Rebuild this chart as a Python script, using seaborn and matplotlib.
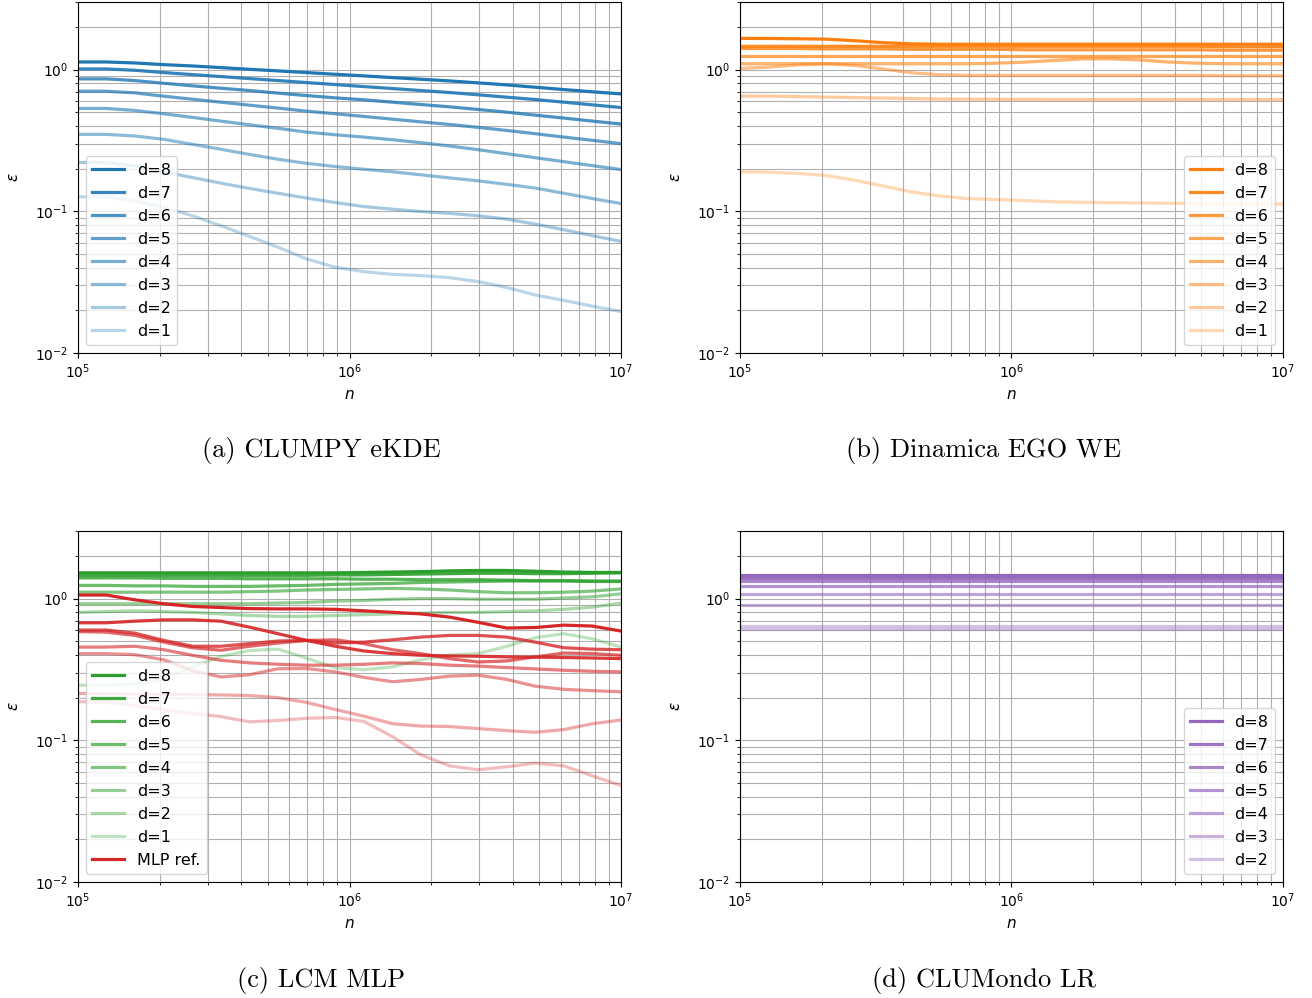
import numpy as np
import pandas as pd
import matplotlib
matplotlib.use("Agg")
import matplotlib.pyplot as plt
import seaborn as sns

# ---------------- data ----------------
n_values = [1.00e5, 1.27e5, 1.62e5, 2.07e5, 2.64e5, 3.36e5, 4.28e5, 5.46e5, 6.95e5, 8.86e5,
            1.13e6, 1.44e6, 1.83e6, 2.34e6, 2.98e6, 3.79e6, 4.83e6, 6.16e6, 7.85e6, 1.00e7]
n_flat = [1.0e5, 1.0e7]
dims = [8, 7, 6, 5, 4, 3, 2, 1]

# (a) CLUMPY eKDE
clumpy = {
    8: [1.132, 1.132, 1.114, 1.084, 1.061, 1.033, 1.005, 0.979, 0.953, 0.927, 0.903, 0.878, 0.855, 0.832, 0.806, 0.780, 0.751, 0.723, 0.697, 0.674],
    7: [1.011, 1.011, 0.989, 0.953, 0.922, 0.893, 0.864, 0.837, 0.810, 0.784, 0.759, 0.735, 0.712, 0.689, 0.664, 0.639, 0.615, 0.589, 0.564, 0.540],
    6: [0.860, 0.860, 0.837, 0.801, 0.768, 0.739, 0.712, 0.682, 0.656, 0.632, 0.612, 0.589, 0.567, 0.546, 0.523, 0.501, 0.477, 0.455, 0.433, 0.413],
    5: [0.704, 0.704, 0.685, 0.649, 0.618, 0.589, 0.561, 0.535, 0.509, 0.488, 0.467, 0.447, 0.428, 0.410, 0.391, 0.372, 0.353, 0.334, 0.317, 0.300],
    4: [0.532, 0.532, 0.515, 0.488, 0.460, 0.433, 0.408, 0.385, 0.362, 0.347, 0.334, 0.320, 0.305, 0.289, 0.272, 0.255, 0.239, 0.224, 0.210, 0.197],
    3: [0.349, 0.349, 0.340, 0.322, 0.297, 0.274, 0.252, 0.233, 0.218, 0.207, 0.198, 0.190, 0.181, 0.172, 0.164, 0.155, 0.146, 0.134, 0.123, 0.1135],
    2: [0.221, 0.221, 0.209, 0.190, 0.173, 0.158, 0.145, 0.134, 0.124, 0.1153, 0.108, 0.1035, 0.0997, 0.0966, 0.0930, 0.0881, 0.0812, 0.0741, 0.0673, 0.0613],
    1: [0.1265, 0.1265, 0.1186, 0.1064, 0.0930, 0.0791, 0.0665, 0.0557, 0.0461, 0.0403, 0.0375, 0.0359, 0.0352, 0.0340, 0.0319, 0.0290, 0.0257, 0.0235, 0.0214, 0.0196],
}

# (b) Dinamica EGO WE
dinamica = {
    8: [1.66, 1.66, 1.65, 1.64, 1.60, 1.55, 1.52, 1.51, 1.51, 1.51, 1.51, 1.51, 1.51, 1.51, 1.51, 1.51, 1.51, 1.51, 1.51, 1.51],
    7: [1.46, 1.46, 1.46, 1.46, 1.46, 1.46, 1.46, 1.46, 1.46, 1.46, 1.46, 1.46, 1.46, 1.46, 1.46, 1.46, 1.46, 1.45, 1.45, 1.45],
    6: [1.41, 1.41, 1.41, 1.40, 1.40, 1.40, 1.39, 1.39, 1.39, 1.39, 1.38, 1.38, 1.38, 1.38, 1.38, 1.38, 1.38, 1.37, 1.37, 1.37],
    5: [1.24, 1.24, 1.24, 1.24, 1.24, 1.24, 1.24, 1.24, 1.24, 1.24, 1.24, 1.24, 1.24, 1.24, 1.24, 1.24, 1.24, 1.24, 1.24, 1.24],
    4: [1.10, 1.10, 1.10, 1.10, 1.10, 1.10, 1.10, 1.10, 1.10, 1.11, 1.13, 1.16, 1.19, 1.19, 1.17, 1.13, 1.11, 1.10, 1.10, 1.10],
    3: [1.02, 1.04, 1.08, 1.10, 1.07, 1.01, 0.95, 0.92, 0.91, 0.91, 0.91, 0.91, 0.91, 0.91, 0.91, 0.91, 0.91, 0.905, 0.905, 0.905],
    2: [0.650, 0.650, 0.645, 0.640, 0.635, 0.630, 0.625, 0.620, 0.618, 0.617, 0.616, 0.615, 0.615, 0.615, 0.615, 0.615, 0.615, 0.615, 0.615, 0.615],
    1: [0.190, 0.189, 0.185, 0.179, 0.166, 0.151, 0.137, 0.128, 0.123, 0.121, 0.119, 0.1166, 0.1158, 0.115, 0.1145, 0.114, 0.1135, 0.1132, 0.1128, 0.1123],
}

# (c) LCM MLP
lcm = {
    8: [1.52, 1.52, 1.52, 1.52, 1.52, 1.52, 1.52, 1.52, 1.52, 1.52, 1.53, 1.54, 1.55, 1.57, 1.58, 1.58, 1.56, 1.54, 1.53, 1.53],
    7: [1.46, 1.46, 1.46, 1.46, 1.46, 1.46, 1.46, 1.46, 1.46, 1.47, 1.47, 1.48, 1.49, 1.50, 1.51, 1.51, 1.50, 1.50, 1.51, 1.52],
    6: [1.40, 1.40, 1.40, 1.39, 1.39, 1.39, 1.38, 1.38, 1.38, 1.38, 1.37, 1.37, 1.36, 1.36, 1.36, 1.35, 1.34, 1.34, 1.33, 1.33],
    5: [1.24, 1.24, 1.23, 1.23, 1.22, 1.22, 1.22, 1.23, 1.24, 1.26, 1.27, 1.28, 1.30, 1.31, 1.32, 1.33, 1.33, 1.33, 1.32, 1.32],
    4: [1.11, 1.11, 1.11, 1.11, 1.11, 1.11, 1.12, 1.13, 1.15, 1.16, 1.17, 1.18, 1.17, 1.15, 1.12, 1.10, 1.10, 1.11, 1.13, 1.17],
    3: [0.92, 0.92, 0.92, 0.92, 0.92, 0.92, 0.92, 0.93, 0.94, 0.96, 0.97, 0.99, 1.00, 1.00, 0.99, 0.99, 0.99, 1.01, 1.03, 1.08],
    2: [0.80, 0.81, 0.82, 0.81, 0.80, 0.78, 0.76, 0.75, 0.75, 0.76, 0.77, 0.78, 0.79, 0.80, 0.80, 0.81, 0.82, 0.84, 0.87, 0.93],
    1: [0.245, 0.245, 0.25, 0.27, 0.33, 0.39, 0.43, 0.44, 0.38, 0.325, 0.315, 0.33, 0.37, 0.40, 0.41, 0.46, 0.53, 0.565, 0.52, 0.455],
}
mlp_ref = {
    8: [1.06, 1.06, 0.98, 0.92, 0.88, 0.865, 0.85, 0.846, 0.846, 0.84, 0.82, 0.80, 0.78, 0.74, 0.68, 0.62, 0.625, 0.65, 0.64, 0.59],
    7: [0.675, 0.675, 0.693, 0.708, 0.708, 0.693, 0.629, 0.565, 0.507, 0.461, 0.427, 0.409, 0.398, 0.394, 0.392, 0.388, 0.386, 0.384, 0.381, 0.377],
    6: [0.600, 0.600, 0.570, 0.507, 0.461, 0.461, 0.481, 0.502, 0.507, 0.486, 0.493, 0.512, 0.535, 0.550, 0.550, 0.535, 0.493, 0.450, 0.440, 0.436],
    5: [0.585, 0.580, 0.550, 0.493, 0.450, 0.432, 0.461, 0.486, 0.507, 0.512, 0.481, 0.436, 0.409, 0.377, 0.357, 0.363, 0.388, 0.413, 0.409, 0.398],
    4: [0.455, 0.455, 0.461, 0.436, 0.398, 0.367, 0.352, 0.344, 0.339, 0.339, 0.344, 0.352, 0.348, 0.339, 0.334, 0.326, 0.319, 0.312, 0.307, 0.304],
    3: [0.409, 0.409, 0.402, 0.370, 0.310, 0.280, 0.290, 0.320, 0.321, 0.304, 0.278, 0.259, 0.269, 0.284, 0.288, 0.269, 0.241, 0.229, 0.224, 0.220],
    2: [0.214, 0.214, 0.212, 0.211, 0.210, 0.209, 0.207, 0.200, 0.185, 0.165, 0.148, 0.131, 0.126, 0.125, 0.121, 0.117, 0.114, 0.119, 0.131, 0.139],
    1: [0.187, 0.187, 0.176, 0.164, 0.155, 0.147, 0.135, 0.138, 0.143, 0.145, 0.136, 0.106, 0.079, 0.066, 0.062, 0.065, 0.069, 0.066, 0.056, 0.048],
}

# (d) CLUMondo LR  (flat lines)
clumondo = {
    8: [[1.47, 1.47]],
    7: [[1.44, 1.44], [1.40, 1.40]],
    6: [[1.33, 1.33]],
    5: [[1.22, 1.22]],
    4: [[1.08, 1.08]],
    3: [[0.90, 0.90]],
    2: [[0.64, 0.64], [0.615, 0.615]],
}

captions = ["(a) CLUMPY eKDE", "(b) Dinamica EGO WE", "(c) LCM MLP", "(d) CLUMondo LR"]

# ---------------- style ----------------
LW = 2.3
LEG_FS = 11.5


def alpha_of(d):
    return 0.3 + 0.1 * (d - 1)


def style_axes(ax):
    ax.set_xscale("log")
    ax.set_yscale("log")
    ax.set_xlim(1e5, 1e7)
    ax.set_ylim(1e-2, 3)
    ax.grid(True, which="both", color="#b0b0b0", linewidth=0.8)
    ax.set_axisbelow(True)
    ax.set_xlabel("$n$", fontsize=11)
    ax.set_ylabel(r"$\varepsilon$", fontsize=11, labelpad=10)


fig = plt.figure(figsize=(13.12, 9.98), dpi=100)
W, H = 1312.0, 998.0
boxes = [(78, 2), (740, 2), (78, 531), (740, 531)]
axes = []
for (lx, ty) in boxes:
    ax = fig.add_axes([lx / W, 1 - (ty + 351) / H, 543 / W, 351 / H])
    axes.append(ax)

# (a)
ax = axes[0]
style_axes(ax)
for d in dims:
    sns.lineplot(x=n_values, y=clumpy[d], ax=ax, color="tab:blue", alpha=alpha_of(d),
                 lw=LW, label=f"d={d}", estimator=None, sort=False)
ax.legend(loc="lower left", fontsize=LEG_FS)

# (b)
ax = axes[1]
style_axes(ax)
for d in dims:
    sns.lineplot(x=n_values, y=dinamica[d], ax=ax, color="tab:orange", alpha=alpha_of(d),
                 lw=LW, label=f"d={d}", estimator=None, sort=False)
ax.legend(loc="lower right", fontsize=LEG_FS)

# (c)
ax = axes[2]
style_axes(ax)
for d in dims:
    sns.lineplot(x=n_values, y=lcm[d], ax=ax, color="tab:green", alpha=alpha_of(d),
                 lw=LW, label=f"d={d}", estimator=None, sort=False)
for d in dims:
    kw = {"label": "MLP ref."} if d == 8 else {}
    sns.lineplot(x=n_values, y=mlp_ref[d], ax=ax, color="tab:red", alpha=alpha_of(d),
                 lw=LW, estimator=None, sort=False, **kw)
ax.legend(loc="lower left", fontsize=LEG_FS)

# (d)
ax = axes[3]
style_axes(ax)
for d in [8, 7, 6, 5, 4, 3, 2]:
    for i, vals in enumerate(clumondo[d]):
        kw = {"label": f"d={d}"} if i == 0 else {}
        sns.lineplot(x=n_flat, y=vals, ax=ax, color="tab:purple", alpha=alpha_of(d),
                     lw=LW, estimator=None, sort=False, **kw)
ax.legend(loc="lower right", fontsize=LEG_FS)

# captions
cap_pos = [(321 / W, 1 - 450 / H), (984 / W, 1 - 450 / H),
           (321 / W, 1 - 980 / H), (984 / W, 1 - 980 / H)]
for (cx, cy), txt in zip(cap_pos, captions):
    fig.text(cx, cy, txt, ha="center", va="center", fontsize=19, family="cmr10")

fig.savefig("out.png", dpi=100)
